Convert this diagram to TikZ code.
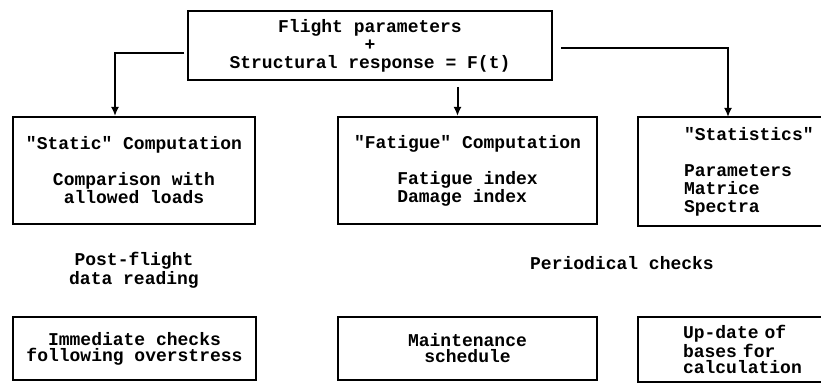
\documentclass[tikz,border=0pt]{standalone}
\usepackage{fontspec}
\setmonofont{Liberation Mono}
\usetikzlibrary{arrows.meta}
\tikzset{
  block/.style={rectangle, draw=black, line width=1pt, align=center,
                font=\ttfamily\bfseries\fontsize{9}{9}\selectfont, inner sep=0pt},
  lowblock/.style={block, font=\ttfamily\bfseries\fontsize{9}{8}\selectfont,
                   minimum height=31.5pt},
  cutblock/.style={draw=none, align=left, anchor=north west, text width=100pt},
  rim/.style={line width=1pt},
  arrow/.style={-{Latex[length=4.5pt,width=4pt]}, line width=1pt},
  lbl/.style={font=\ttfamily\bfseries\fontsize{9}{8}\selectfont, align=center},
}
\begin{document}
\begin{tikzpicture}[x=0.5pt, y=-0.5pt]
  \useasboundingbox (0,0) rectangle (821,383);
  \node[block, minimum width=182pt, minimum height=34.5pt] (flight) at (370,45.5)
    {Flight parameters\\+\\Structural response = F(t)};
  \node[block, minimum width=121pt, minimum height=53.5pt] (static) at (134,170.5)
    {"Static" Computation\\[9pt]Comparison with\\allowed loads};
  \node[block, minimum width=129.5pt, minimum height=53.5pt] (fatigue) at (467.5,170.5)
    {"Fatigue" Computation\\[9pt]Fatigue index\\Damage index\phantom{x}};
  \node[block, cutblock, inner xsep=22.5pt, minimum height=53.5pt] (stats) at (638,117)
    {"Statistics"\\[9pt]Parameters\\Matrice\\Spectra};
  \node[lbl] (postflight) at (134,270) {Post-flight\\data reading};
  \node[lbl] (periodic) at (622,263) {Periodical checks};
  \node[lowblock, minimum width=121.5pt] (immed) at (134.5,348.5)
    {Immediate checks\\following overstress};
  \node[lowblock, minimum width=129.5pt] (maint) at (467.5,348.5)
    {Maintenance\\schedule};
  \node[lowblock, cutblock, inner xsep=22pt] (update) at (638,317)
    {Up-date of\\bases for\\calculation};
  % right-hand boxes run off the page
  \draw[rim] (stats.north east) -- (stats.north west) -- (stats.south west) -- (stats.south east);
  \draw[rim] (update.north east) -- (update.north west) -- (update.south west) -- (update.south east);
  % drop points on the three boxes
  \coordinate (ldrop) at ([xshift=-9.5pt]static.north);
  \coordinate (fdrop) at ([xshift=-5pt]fatigue.north);
  \coordinate (sdrop) at ([xshift=45pt]stats.north west);
  \draw[arrow] ([xshift=-1.5pt,yshift=-4pt]flight.west) -| (ldrop);
  \draw[arrow, shorten <=3pt] (flight.south -| fdrop) -- (fdrop);
  \draw[arrow] ([xshift=4pt,yshift=-1.5pt]flight.east) -| (sdrop);
\end{tikzpicture}
\end{document}
